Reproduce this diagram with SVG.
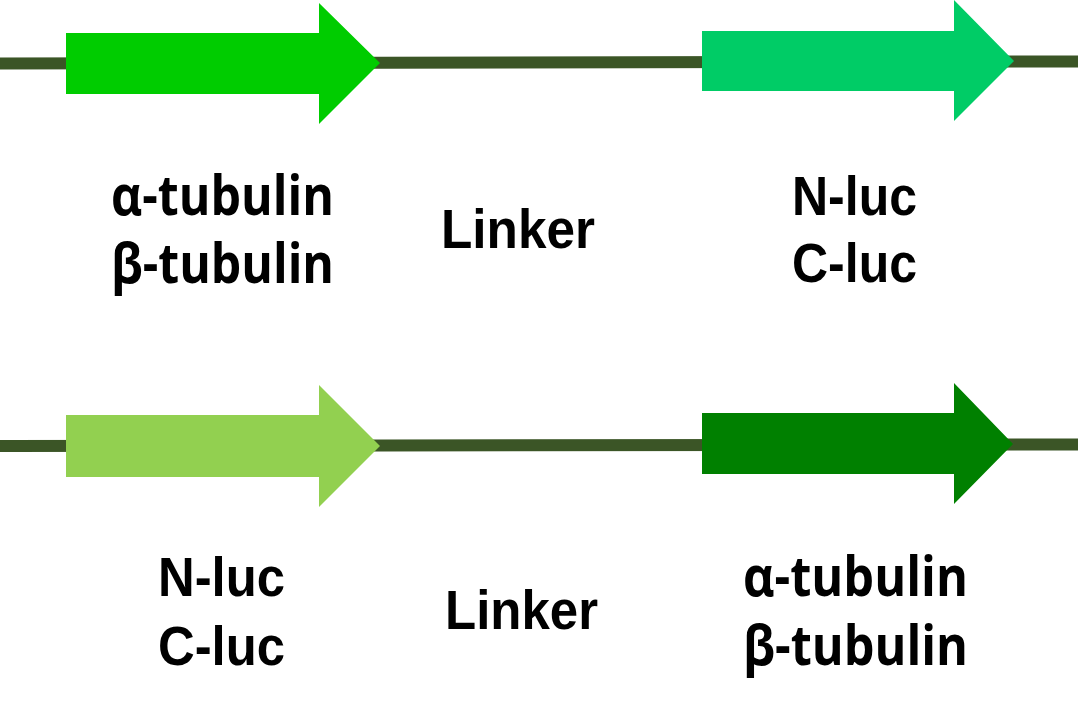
<svg xmlns="http://www.w3.org/2000/svg" width="1085" height="714" viewBox="0 0 1085 714">
<style>
.ln{stroke:#3B5526;stroke-width:12;fill:none}
.t{font-family:"Liberation Sans",Arial,sans-serif;font-weight:bold;font-size:55px;fill:#000}
.g{font-family:"Open Sans","Noto Sans",sans-serif;font-weight:bold;font-size:55px;fill:#000}
</style>
<rect width="1085" height="714" fill="#fff"/>
<g id="connectors">
<line class="ln" x1="0" y1="63.5" x2="1078" y2="61.5"/>
<line class="ln" x1="0" y1="446" x2="1078" y2="444.5"/>
</g>
<g id="arrow1"><polygon points="66,33 319,33 319,3 380,63 319,124 319,94 66,94" fill="#00CC00"/></g>
<g id="arrow2"><polygon points="702,31 954,31 954,0 1014,61 954,121 954,91 702,91" fill="#00CC66"/></g>
<g id="arrow3"><polygon points="66,415 319,415 319,385 380,446 319,507 319,477 66,477" fill="#92D050"/></g>
<g id="arrow4"><polygon points="702,413 954,413 954,383 1013,444 954,504 954,474 702,474" fill="#008000"/></g>
<g id="label-tubulin-top">
<text class="g" x="111" y="215" textLength="223" lengthAdjust="spacingAndGlyphs">α-tubulin</text>
<text class="g" x="111" y="283" textLength="223" lengthAdjust="spacingAndGlyphs">β-tubulin</text>
</g>
<g id="label-linker-top"><text class="t" x="441" y="248" textLength="154" lengthAdjust="spacingAndGlyphs">Linker</text></g>
<g id="label-luc-top">
<text class="t" x="792" y="215" textLength="125" lengthAdjust="spacingAndGlyphs">N-luc</text>
<text class="t" x="792" y="282" textLength="125" lengthAdjust="spacingAndGlyphs">C-luc</text>
</g>
<g id="label-luc-bottom">
<text class="t" x="158" y="596" textLength="127" lengthAdjust="spacingAndGlyphs">N-luc</text>
<text class="t" x="158" y="665" textLength="127" lengthAdjust="spacingAndGlyphs">C-luc</text>
</g>
<g id="label-linker-bottom"><text class="t" x="445" y="629" textLength="153" lengthAdjust="spacingAndGlyphs">Linker</text></g>
<g id="label-tubulin-bottom">
<text class="g" x="743" y="596" textLength="225" lengthAdjust="spacingAndGlyphs">α-tubulin</text>
<text class="g" x="743" y="665" textLength="225" lengthAdjust="spacingAndGlyphs">β-tubulin</text>
</g>
</svg>
